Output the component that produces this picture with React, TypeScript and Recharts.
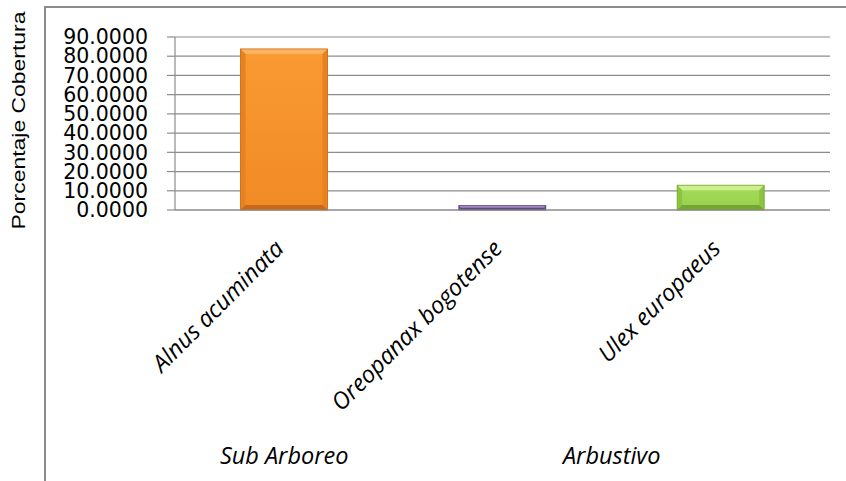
import React from 'react';
import { BarChart, Bar, XAxis, YAxis, CartesianGrid } from 'recharts';

const species = ['Alnus acuminata', 'Oreopanax bogotense', 'Ulex europaeus'];
const cobertura = [83.8, 2.3, 12.9];
const habito = ['Sub Arboreo', 'Arbustivo', 'Arbustivo'];
const yTicks = [0, 10, 20, 30, 40, 50, 60, 70, 80, 90];

const palette = [
  { top: '#fcb45e', face1: '#fa9a33', face2: '#f08a25', side: '#e8821f', bottom: '#c8691a' },
  { top: '#a68cc6', face1: '#8d72b2', face2: '#8064a2', side: '#745996', bottom: '#5f4a80' },
  { top: '#cbf08c', face1: '#a6dc5c', face2: '#98cf4c', side: '#8cc340', bottom: '#74a632' },
];

const data = species.map((s, i) => ({ species: s, cobertura: cobertura[i], habito: habito[i] }));

const GRID = '#8c8c8c';

function BevelBar(props: any) {
  const { x, y, width: w, height: h, index } = props;
  if (!w || !h) return null;
  const c = palette[index % palette.length];
  const b = Math.max(1, Math.min(5, h / 2, w / 2));
  const id = `face${index}`;
  return (
    <g>
      <defs>
        <linearGradient id={id} x1="0" y1="0" x2="0" y2="1">
          <stop offset="0%" stopColor={c.face1} />
          <stop offset="100%" stopColor={c.face2} />
        </linearGradient>
      </defs>
      <rect x={x} y={y} width={w} height={h} fill={`url(#${id})`} />
      <polygon points={`${x},${y} ${x + w},${y} ${x + w - b},${y + b} ${x + b},${y + b}`} fill={c.top} />
      <polygon points={`${x},${y} ${x + b},${y + b} ${x + b},${y + h - b} ${x},${y + h}`} fill={c.side} />
      <polygon points={`${x + w},${y} ${x + w - b},${y + b} ${x + w - b},${y + h - b} ${x + w},${y + h}`} fill={c.side} />
      <polygon points={`${x},${y + h} ${x + w},${y + h} ${x + w - b},${y + h - b} ${x + b},${y + h - b}`} fill={c.bottom} />
      <rect x={x} y={y} width={w} height={h} fill="none" stroke={c.bottom} strokeWidth={0.8} />
    </g>
  );
}

function SpeciesTick(props: any) {
  const { x, y, payload } = props;
  const i = payload.index ?? props.index ?? 0;
  const step = payload.offset ? payload.offset * 2 : (props.width || 655) / species.length;
  const first = i === 0 || habito[i] !== habito[i - 1];
  let span = 1;
  while (i + span < habito.length && habito[i + span] === habito[i]) span++;
  const gx = x + ((span - 1) * step) / 2;
  const font = { fontFamily: '"Open Sans", sans-serif', fontStyle: 'italic' as const, fontSize: 23.5, fill: '#000' };
  const ax = x + 1;
  const ay = y + 40;
  return (
    <g>
      <text x={ax} y={ay} textAnchor="end" transform={`rotate(-45, ${ax}, ${ay})`} {...font}>
        {payload.value}
      </text>
      {first && (
        <text x={gx} y={y + 254} textAnchor="middle" {...font}>
          {habito[i]}
        </text>
      )}
    </g>
  );
}

function YTitle(props: any) {
  const vb = props.viewBox || { y: 37, height: 173 };
  const cy = vb.y + vb.height / 2 - 3;
  return (
    <text
      x={25}
      y={cy}
      transform={`rotate(-90, 25, ${cy})`}
      textAnchor="middle"
      fontFamily='"Liberation Sans", sans-serif'
      fontSize={17.5}
      textLength={218}
      lengthAdjust="spacingAndGlyphs"
      fill="#000"
    >
      Porcentaje Cobertura
    </text>
  );
}

export default function App() {
  return (
    <div style={{ position: 'absolute', left: 0, top: 0, width: 846, height: 481, background: '#fff', overflow: 'hidden' }}>
      <div
        style={{
          position: 'absolute',
          left: 44,
          top: 6,
          width: 846 - 44,
          height: 481 - 6,
          borderTop: `2px solid ${GRID}`,
          borderLeft: `2px solid ${GRID}`,
          boxSizing: 'border-box',
          pointerEvents: 'none',
        }}
      />
      <BarChart
        width={846}
        height={481}
        data={data}
        margin={{ top: 37, right: 16, left: 0, bottom: 0 }}
        barCategoryGap="30%"
        style={{ position: 'absolute', left: 0, top: 0 }}
      >
        <CartesianGrid vertical={false} stroke={GRID} strokeWidth={1.2} />
        <XAxis
          dataKey="species"
          height={271}
          interval={0}
          tickLine={false}
          tickSize={0}
          tickMargin={0}
          axisLine={{ stroke: GRID, strokeWidth: 1.2 }}
          tick={<SpeciesTick />}
        />
        <YAxis
          width={175}
          domain={[0, 90]}
          ticks={yTicks}
          interval={0}
          tickFormatter={(v: number) => v.toFixed(4)}
          tickSize={8}
          tickMargin={19}
          axisLine={{ stroke: GRID, strokeWidth: 1.2 }}
          tickLine={{ stroke: GRID, strokeWidth: 1.2 }}
          tick={{ fontFamily: '"DejaVu Sans", sans-serif', fontSize: 20.5, fill: '#000' }}
          label={<YTitle />}
        />
        <Bar dataKey="cobertura" shape={<BevelBar />} isAnimationActive={false} />
      </BarChart>
    </div>
  );
}
